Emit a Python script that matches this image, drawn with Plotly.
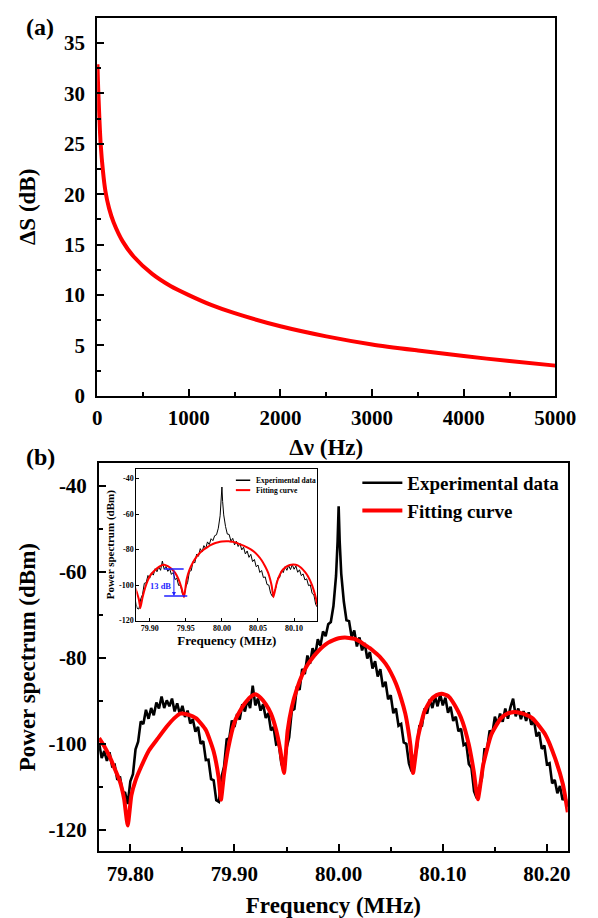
import plotly.graph_objects as go

W, H = 598, 918
FONT = "Liberation Serif"
RED = "#ff0000"
BLUE = "#1f1fff"

# ---------------- Panel (a) data ----------------
dnu_hz = [3, 8, 14, 25, 38, 63, 90, 130, 180, 280, 400, 600, 800, 1000, 1250,
          1500, 2000, 2500, 3000, 3500, 4000, 4500, 5000]
delta_s_db = [32.9, 31.3, 29.8, 27.3, 25.0, 22.3, 20.3, 18.6, 17.2, 15.3, 13.8,
              12.1, 10.9, 10.0, 9.0, 8.2, 6.9, 5.9, 5.1, 4.5, 3.95, 3.45, 3.0]
a_xticks = [0, 1000, 2000, 3000, 4000, 5000]
a_yticks = [0, 5, 10, 15, 20, 25, 30, 35]

# ---------------- Panel (b) data ----------------
exp_freq = [
    79.7700, 79.7725, 79.7750, 79.7775, 79.7800, 79.7825, 79.7850, 79.7875, 79.7900, 79.7925,
    79.7950, 79.7975, 79.8000, 79.8025, 79.8050, 79.8075, 79.8100, 79.8125, 79.8150, 79.8175,
    79.8200, 79.8225, 79.8250, 79.8275, 79.8300, 79.8325, 79.8350, 79.8375, 79.8400, 79.8425,
    79.8450, 79.8475, 79.8500, 79.8525, 79.8550, 79.8575, 79.8600, 79.8625, 79.8650, 79.8675,
    79.8700, 79.8725, 79.8750, 79.8775, 79.8800, 79.8825, 79.8850, 79.8875, 79.8900, 79.8925,
    79.8950, 79.8975, 79.9000, 79.9025, 79.9050, 79.9075, 79.9100, 79.9125, 79.9150, 79.9175,
    79.9200, 79.9225, 79.9250, 79.9275, 79.9300, 79.9325, 79.9350, 79.9375, 79.9400, 79.9425,
    79.9450, 79.9475, 79.9500, 79.9525, 79.9550, 79.9575, 79.9600, 79.9625, 79.9650, 79.9675,
    79.9700, 79.9725, 79.9750, 79.9775, 79.9800, 79.9825, 79.9850, 79.9875, 79.9900, 79.9925,
    79.9950, 79.9975, 79.9990, 80.0000, 80.0010, 80.0025, 80.0050, 80.0075, 80.0100, 80.0125,
    80.0150, 80.0175, 80.0200, 80.0225, 80.0250, 80.0275, 80.0300, 80.0325, 80.0350, 80.0375,
    80.0400, 80.0425, 80.0450, 80.0475, 80.0500, 80.0525, 80.0550, 80.0575, 80.0600, 80.0625,
    80.0650, 80.0675, 80.0700, 80.0725, 80.0750, 80.0775, 80.0800, 80.0825, 80.0850, 80.0875,
    80.0900, 80.0925, 80.0950, 80.0975, 80.1000, 80.1025, 80.1050, 80.1075, 80.1100, 80.1125,
    80.1150, 80.1175, 80.1200, 80.1225, 80.1250, 80.1275, 80.1300, 80.1325, 80.1350, 80.1375,
    80.1400, 80.1425, 80.1450, 80.1475, 80.1500, 80.1525, 80.1550, 80.1575, 80.1600, 80.1625,
    80.1650, 80.1675, 80.1700, 80.1725, 80.1750, 80.1775, 80.1800, 80.1825, 80.1850, 80.1875,
    80.1900, 80.1925, 80.1950, 80.1975, 80.2000, 80.2025, 80.2050, 80.2075, 80.2100, 80.2125,
    80.2150, 80.2175, 80.2200,
]
exp_dbm = [
    -99.8, -103.3, -101.7, -104.0, -102.0, -105.2, -104.9, -108.4, -107.6, -111.2,
    -111.4, -114.0, -108.7, -107.1, -101.3, -99.5, -94.8, -95.4, -92.1, -94.2,
    -91.7, -93.4, -90.4, -91.8, -89.0, -91.7, -89.9, -91.3, -89.5, -92.5,
    -90.6, -93.1, -91.2, -93.8, -92.3, -95.3, -94.3, -97.2, -96.1, -100.0,
    -99.4, -103.8, -103.7, -108.2, -108.5, -113.1, -113.5, -107.8, -105.3, -99.0,
    -98.7, -94.6, -96.1, -93.1, -94.4, -90.8, -92.5, -89.7, -91.7, -86.5,
    -91.1, -89.5, -92.3, -90.8, -94.0, -92.9, -96.9, -96.1, -100.2, -100.0,
    -104.6, -106.5, -101.0, -98.5, -92.3, -91.9, -86.7, -87.5, -82.6, -83.8,
    -79.5, -81.4, -77.8, -79.5, -75.7, -77.2, -73.9, -75.0, -72.2, -71.7,
    -68.0, -61.0, -53.0, -44.8, -53.0, -60.5, -67.0, -71.3, -71.5, -75.2,
    -73.7, -77.4, -75.3, -78.3, -76.6, -80.2, -78.7, -82.5, -80.8, -84.4,
    -82.7, -86.8, -85.6, -89.7, -88.7, -92.9, -91.8, -95.8, -95.4, -99.7,
    -100.0, -104.6, -106.4, -103.2, -101.2, -95.9, -95.8, -91.8, -93.0, -89.7,
    -91.7, -89.0, -91.3, -88.5, -91.1, -89.3, -92.8, -91.4, -94.7, -93.7,
    -97.1, -96.5, -100.3, -99.9, -104.7, -105.6, -111.0, -112.6, -110.2, -108.0,
    -101.3, -101.3, -96.9, -97.7, -93.7, -95.6, -93.0, -94.9, -91.8, -94.2,
    -91.5, -89.5, -93.6, -91.8, -94.3, -92.4, -94.7, -92.7, -95.6, -94.5,
    -98.3, -97.3, -101.2, -100.4, -104.8, -104.5, -109.2, -108.4, -111.5, -109.8,
    -113.1, -112.2, -114.6,
]
fit_freq = [
    79.7700, 79.7750, 79.7807, 79.7850, 79.7899, 79.7940, 79.7975, 79.8010, 79.8050, 79.8110,
    79.8180, 79.8266, 79.8350, 79.8420, 79.8480, 79.8550, 79.8633, 79.8725, 79.8800, 79.8848,
    79.8870, 79.8900, 79.8940, 79.9000, 79.9050, 79.9100, 79.9150, 79.9200, 79.9250, 79.9300,
    79.9350, 79.9400, 79.9440, 79.9475, 79.9510, 79.9550, 79.9600, 79.9650, 79.9700, 79.9750,
    79.9800, 79.9850, 79.9900, 79.9950, 80.0000, 80.0060, 80.0100, 80.0150, 80.0200, 80.0250,
    80.0300, 80.0350, 80.0400, 80.0450, 80.0500, 80.0550, 80.0600, 80.0640, 80.0670, 80.0690,
    80.0714, 80.0760, 80.0822, 80.0883, 80.0940, 80.0990, 80.1050, 80.1097, 80.1150, 80.1190,
    80.1250, 80.1297, 80.1336, 80.1389, 80.1465, 80.1557, 80.1620, 80.1694, 80.1770, 80.1862,
    80.1985, 80.2077, 80.2153, 80.2200,
]
fit_dbm = [
    -98.7, -100.6, -103.3, -105.8, -108.7, -112.8, -119.0, -112.0, -108.5, -105.0,
    -101.5, -98.7, -96.0, -94.1, -93.0, -93.2, -94.1, -96.8, -101.8, -107.9,
    -113.0, -107.0, -101.0, -95.0, -92.5, -90.6, -89.2, -88.5, -89.3, -90.8,
    -93.0, -96.8, -101.5, -106.8, -97.0, -91.5, -87.2, -84.0, -81.7, -80.0,
    -78.6, -77.4, -76.5, -75.9, -75.5, -75.3, -75.4, -75.6, -76.2, -77.0,
    -77.8, -78.8, -79.9, -81.4, -83.4, -86.0, -89.5, -93.0, -97.0, -100.5,
    -106.8, -98.7, -92.6, -89.9, -88.7, -88.4, -88.9, -90.3, -92.6, -94.9,
    -100.2, -106.4, -112.9, -104.8, -97.9, -94.1, -93.0, -92.6, -93.0, -94.1,
    -97.9, -103.3, -109.4, -115.9,
]
b_xticks = [79.80, 79.90, 80.00, 80.10, 80.20]
b_xticklabels = ["79.80", "79.90", "80.00", "80.10", "80.20"]
b_yticks = [-40, -60, -80, -100, -120]
b_yticklabels = ["-40", "-60", "-80", "-100", "-120"]

inset_xticks = [79.90, 79.95, 80.00, 80.05, 80.10]
inset_xticklabels = ["79.90", "79.95", "80.00", "80.05", "80.10"]
inset_yticks = [-40, -60, -80, -100, -120]
inset_yticklabels = ["-40", "-60", "-80", "-100", "-120"]

# annotation for 13 dB difference (inset)
ann_upper_db = -90.9
ann_lower_db = -106.1

# ---------------- Figure ----------------
fig = go.Figure()

fig.add_trace(go.Scatter(x=dnu_hz, y=delta_s_db, mode="lines",
                         line=dict(color=RED, width=4, shape="spline", smoothing=0.7),
                         showlegend=False, xaxis="x", yaxis="y"))

fig.add_trace(go.Scatter(x=exp_freq, y=exp_dbm, mode="lines", name="Experimental data",
                         line=dict(color="black", width=2.6), xaxis="x2", yaxis="y2",
                         legend="legend"))
fig.add_trace(go.Scatter(x=fit_freq, y=fit_dbm, mode="lines", name="Fitting curve",
                         line=dict(color=RED, width=4, shape="spline", smoothing=0.5),
                         xaxis="x2", yaxis="y2", legend="legend"))

fig.add_trace(go.Scatter(x=exp_freq, y=exp_dbm, mode="lines", showlegend=False,
                         line=dict(color="black", width=1), xaxis="x3", yaxis="y3"))
fig.add_trace(go.Scatter(x=fit_freq, y=fit_dbm, mode="lines", showlegend=False,
                         line=dict(color=RED, width=2, shape="spline", smoothing=0.5),
                         xaxis="x3", yaxis="y3"))

def px_x(p):
    return p / W

def px_y(p):
    return 1 - p / H

tick_font = dict(family=FONT, size=21, color="black", weight="bold")
title_font = dict(family=FONT, size=23, color="black", weight="bold")
small_tick = dict(family=FONT, size=8, color="black", weight="bold")
small_title = dict(family=FONT, size=13, color="black", weight="bold")

main_axis = dict(showline=True, linecolor="black", linewidth=2, mirror=True,
                 ticks="inside", ticklen=7, tickwidth=2, tickcolor="black",
                 showgrid=False, zeroline=False, tickfont=tick_font)

fig.update_layout(
    width=W, height=H,
    margin=dict(l=0, r=0, t=0, b=0),
    paper_bgcolor="white", plot_bgcolor="white",
    font=dict(family=FONT, color="black"),
    xaxis=dict(domain=[px_x(88), px_x(567)], anchor="y", range=[0, 5000],
               tickvals=a_xticks, ticklabelstandoff=2,
               minor=dict(ticks="inside", ticklen=4, tickwidth=1.5, tickcolor="black", dtick=500),
               title=dict(text="Δν (Hz)", font=title_font, standoff=10),
               **main_axis),
    yaxis=dict(domain=[px_y(393), px_y(10)], anchor="x", range=[0, 37.5],
               tickvals=a_yticks, ticklabelstandoff=6,
               minor=dict(ticks="inside", ticklen=4, tickwidth=1.5, tickcolor="black", dtick=2.5),
               title=dict(text="ΔS (dB)", font=title_font, standoff=22),
               **main_axis),
    xaxis2=dict(domain=[px_x(90), px_x(580)], anchor="y2", range=[79.770, 80.220],
                tickvals=b_xticks, ticktext=b_xticklabels, ticklabelstandoff=2,
                minor=dict(ticks="inside", ticklen=4, tickwidth=1.5, tickcolor="black",
                           tickvals=[79.85, 79.95, 80.05, 80.15]),
                title=dict(text="Frequency (MHz)", font=title_font, standoff=12),
                **main_axis),
    yaxis2=dict(domain=[px_y(854.5), px_y(461)], anchor="x2", range=[-125, -34.75],
                tickvals=b_yticks, ticktext=b_yticklabels, ticklabelstandoff=6,
                minor=dict(ticks="inside", ticklen=4, tickwidth=1.5, tickcolor="black",
                           tickvals=[-50, -70, -90, -110]),
                title=dict(text="Power spectrum (dBm)", font=title_font, standoff=6),
                **main_axis),
    xaxis3=dict(domain=[px_x(129), px_x(318)], anchor="y3", range=[79.8815, 80.132],
                tickvals=inset_xticks, ticktext=inset_xticklabels,
                showline=True, linecolor="black", linewidth=1, mirror=True,
                ticks="inside", ticklen=3, tickwidth=1, tickcolor="black",
                showgrid=False, zeroline=False, tickfont=small_tick,
                title=dict(text="Frequency (MHz)", font=small_title, standoff=1)),
    yaxis3=dict(domain=[px_y(620.7), px_y(467)], anchor="x3", range=[-120, -34.6],
                tickvals=inset_yticks, ticktext=inset_yticklabels,
                showline=True, linecolor="black", linewidth=1, mirror=True,
                ticks="inside", ticklen=3, tickwidth=1, tickcolor="black",
                showgrid=False, zeroline=False, tickfont=small_tick,
                title=dict(text="Power spectrum (dBm)", font=dict(family=FONT, size=11, color="black", weight="bold"), standoff=2)),
    legend=dict(x=px_x(360), y=px_y(462), xanchor="left", yanchor="top",
                bgcolor="rgba(0,0,0,0)", borderwidth=0,
                font=dict(family=FONT, size=19, color="black", weight="bold"),
                itemwidth=40, tracegroupgap=0),
)

# panel labels
fig.add_annotation(text="(a)", x=px_x(12), y=px_y(19), xref="paper", yref="paper",
                   xanchor="left", yanchor="middle", showarrow=False,
                   font=dict(family=FONT, size=24, color="black", weight="bold"))
fig.add_annotation(text="(b)", x=px_x(12), y=px_y(455), xref="paper", yref="paper",
                   xanchor="left", yanchor="middle", showarrow=False,
                   font=dict(family=FONT, size=24, color="black", weight="bold"))

# inset legend (manual, small)
for yy, col, label in [(478.5, "black", "Experimental data"), (488.5, RED, "Fitting curve")]:
    fig.add_shape(type="line", xref="paper", yref="paper",
                  x0=px_x(233), x1=px_x(248), y0=px_y(yy), y1=px_y(yy),
                  line=dict(color=col, width=1.5 if col == "black" else 2))
    fig.add_annotation(text=label, x=px_x(252), y=px_y(yy), xref="paper", yref="paper",
                       xanchor="left", yanchor="middle", showarrow=False,
                       font=dict(family=FONT, size=7.5, color="black", weight="bold"))

# 13 dB marker in inset
fig.add_shape(type="line", xref="x3", yref="y3", x0=79.920, x1=79.947,
              y0=ann_upper_db, y1=ann_upper_db, line=dict(color=BLUE, width=1.5))
fig.add_shape(type="line", xref="x3", yref="y3", x0=79.920, x1=79.952,
              y0=ann_lower_db, y1=ann_lower_db, line=dict(color=BLUE, width=1.5))
fig.add_annotation(x=79.9335, y=ann_lower_db, ax=79.9335, ay=ann_upper_db,
                   xref="x3", yref="y3", axref="x3", ayref="y3", text="",
                   showarrow=True, arrowhead=2, arrowsize=0.8, arrowwidth=1, arrowcolor=BLUE)
fig.add_annotation(text="13 dB", x=79.9155, y=-100.5, xref="x3", yref="y3",
                   showarrow=False, xanchor="center", yanchor="middle",
                   font=dict(family=FONT, size=8.5, color=BLUE, weight="bold"))

fig.write_html("out.html")
